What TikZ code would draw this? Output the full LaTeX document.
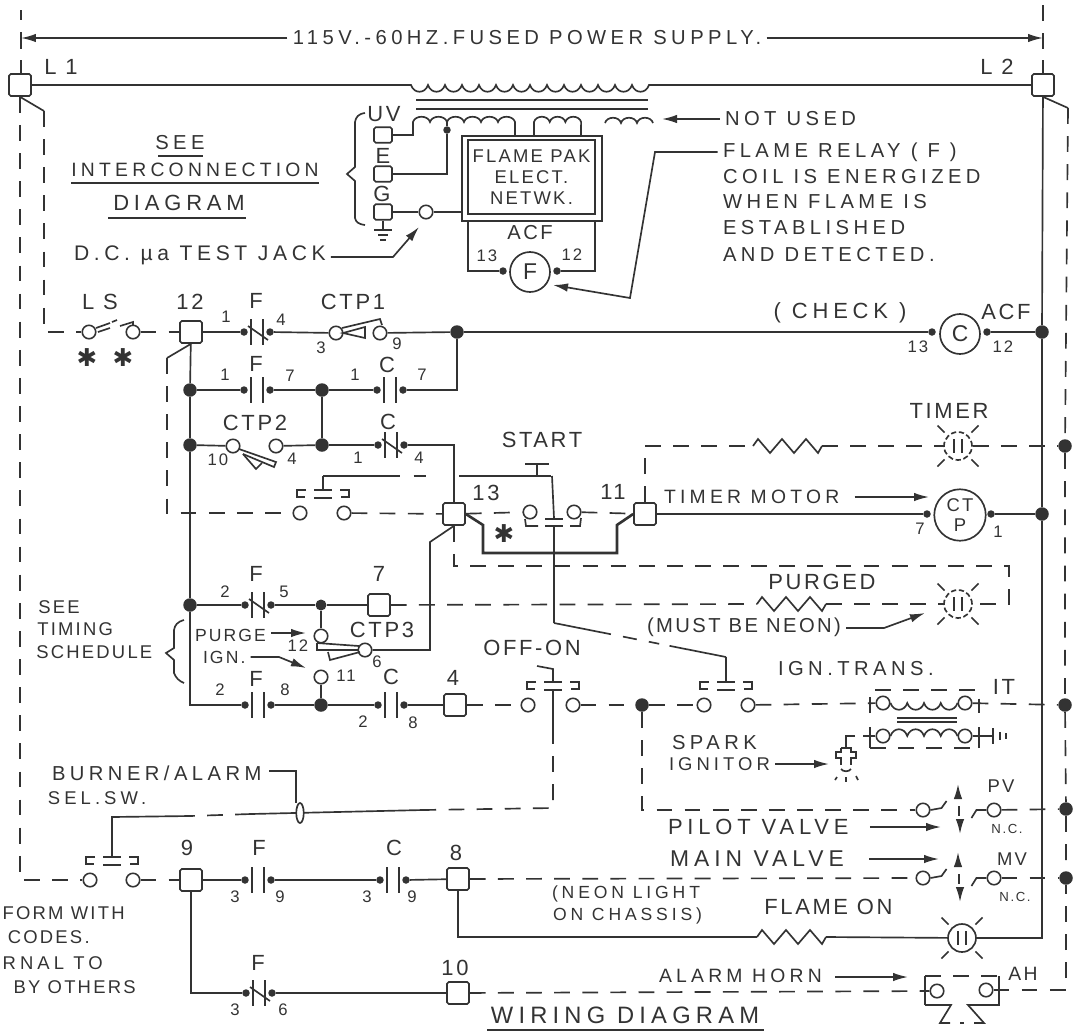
\documentclass[tikz,border=0pt]{standalone}
\usepackage{fontspec}
\setsansfont[LetterSpace=12]{Liberation Sans}
\newfontfamily\widefont[LetterSpace=22]{Liberation Sans}
\newfontfamily\symfont{DejaVu Sans}
\usetikzlibrary{arrows.meta, shapes.geometric}
\definecolor{ink}{gray}{0.2}
\tikzset{
  wire/.style={draw=ink, line width=0.95pt},
  hvy/.style={draw=ink, line width=1.5pt},
  dsh/.style={draw=ink, line width=0.95pt, dash pattern=on 9pt off 7pt},
  tip/.style={-{Latex[length=3mm,width=1.7mm]}},
  dot/.style={circle, fill=ink, inner sep=0pt, minimum size=0.15cm},
  jct/.style={circle, fill=ink, inner sep=0pt, minimum size=0.27cm},
  cnt/.style={circle, draw=ink, fill=white, line width=0.9pt, inner sep=0pt, minimum size=0.27cm},
  term/.style={rectangle, rounded corners=1pt, draw=ink, fill=white, line width=0.95pt, inner sep=0pt, minimum size=0.44cm},
  lamp/.style={circle, draw=ink, line width=0.95pt, inner sep=0pt, minimum size=0.56cm},
  coil/.style={circle, draw=ink, fill=white, line width=0.95pt, inner sep=0pt, text=ink},
  txt/.style={inner sep=0pt, outer sep=3pt, text=ink, font=\widefont\fontsize{11.5}{14}\selectfont},
  ltxt/.style={txt, anchor=west, xshift=-3pt},
  small/.style={inner sep=0pt, text=ink, font=\sffamily\fontsize{9.5}{11}\selectfont},
  big/.style={inner sep=0pt, text=ink, font=\sffamily\fontsize{12.5}{14}\selectfont},
}
% relay contact, open
\newcommand{\relayno}[3]{
  \node[dot] (#1a) at (#2,#3) {};
  \node[dot] (#1b) at ({#2+26},#3) {};
  \draw[wire] (#1a) ++(7,-13) -- ++(0,26);
  \draw[wire] (#1b) ++(-7,-13) -- ++(0,26);
}
% relay contact, closed
\newcommand{\relaync}[3]{
  \relayno{#1}{#2}{#3}
  \draw[wire] (#1a) ++(4,-6) -- ++(20,14);
}
% linked push button
\newcommand{\ganged}[2]{
  \draw[wire] (#1,#2) ++(-9,-23) -- ++(18,0);
  \draw[wire] (#1,#2) ++(-9,-15) -- ++(18,0);
  \draw[wire] (#1,#2) ++(-17,-23) -- ++(-9,0) -- ++(0,7) -- ++(8,0);
  \draw[wire] (#1,#2) ++(17,-23) -- ++(9,0) -- ++(0,7) -- ++(-8,0);
}
\newcommand{\neonlamp}[4]{
  \node[lamp,#4] (#1) at (#2,#3) {};
  \draw[wire] (#1) ++(-4,-7) -- ++(0,14);
  \draw[wire] (#1) ++(4,-7) -- ++(0,14);
  \foreach \a in {45,135,225,315} \draw[wire] (#1) ++(\a:19) -- ++(\a:10);
}
\newcommand{\resistor}[3]{
  \coordinate (#1a) at (#2,#3);
  \draw[wire] (#1a) -- ++(5,-7) -- ++(12,14) -- ++(12,-14) -- ++(12,14) -- ++(12,-14) -- ++(12,14) -- ++(4,-7) coordinate (#1b);
}
\newcommand{\valve}[3]{
  \node[cnt] (#1a) at (#2,#3) {};
  \node[cnt] (#1b) at ({#2+71},#3) {};
  \draw[wire] (#1a.east) -- ++(11,-2) -- ++(5,-7);
  \draw[wire] (#1b.west) -- ++(-10,0) -- ++(-5,8);
  \draw[wire, tip] ({#2+35},{#3-14}) -- ++(0,-12);
  \draw[wire] ({#2+36},{#3-4}) -- ++(0,10);
  \draw[wire, tip] ({#2+37},{#3+12}) -- ++(0,12);
}

\begin{document}
\begin{tikzpicture}[x=0.02cm, y=-0.02cm, font=\sffamily]
    \useasboundingbox (0,0) rectangle (1076,1032);
    % supply
    \node[txt] (supply) at (527,38) {115V.-60HZ.FUSED POWER SUPPLY.};
    \coordinate (supL) at (21,38);
    \coordinate (supR) at (1043,38);
    \draw[wire, tip] (supply) -- (supL);
    \draw[wire, tip] (supply) -- (supR);
    \draw[wire] (supL) ++(0,-28) -- ++(0,10) (supL) ++(0,-6) -- ++(0,17);
    \draw[dsh] (supR) ++(0,-33) -- ++(0,45);
    \draw[wire] (supL) ++(0,22) -- ++(0,14);
    \draw[wire] (supR) ++(0,22) -- ++(0,14);
    % lines in
    \node[term] (l1) at (20,85) {};
    \node[term] (l2) at (1043,85) {};
    \node[big, anchor=west] (lblL1) at (44,67) {L 1};
    \node[big, anchor=west] (lblL2) at (980,67) {L 2};
    % transformer
    \coordinate (priA) at (411,85);
    \draw[wire] (l1) -- (priA) \foreach \i in {1,...,14} { .. controls +(3,9) and +(-3,9) .. ++(17,0) } -- (l2);
    \draw[hvy] (416,100) -- (648,100);
    \draw[hvy] (416,109) -- (648,109);
    \node[term, minimum width=0.36cm, minimum height=0.31cm] (tUV) at (383,135) {};
    \node[term, minimum width=0.36cm, minimum height=0.31cm] (tE) at (383,174) {};
    \node[term, minimum width=0.36cm, minimum height=0.31cm] (tG) at (383,212) {};
    \node[big] (lblUV) at (384,114) {UV};
    \node[big] (lblE) at (383,156) {E};
    \node[big] (lblG) at (382,194) {G};
    \draw[wire] (365,113) .. controls (358,114) and (356,117) .. (355,122) -- (355,167) -- (347,174) -- (355,181) -- (355,218) .. controls (356,222) and (358,224) .. (365,225);
    \node[draw=ink, line width=0.95pt, minimum width=2.8cm, minimum height=1.7cm, inner sep=0pt] (netOut) at (532,178.5) {};
    \node[draw=ink, line width=1.2pt, minimum width=2.54cm, minimum height=1.48cm, inner sep=0pt, align=center, text=ink, font=\sffamily\fontsize{10.5}{12}\selectfont] (net) at (531.5,177) {FLAME PAK\\ELECT.\\NETWK.};
    \coordinate (secA) at (413,135);
    \coordinate (secB) at (515,136);
    \coordinate (sec2A) at (534,136);
    \coordinate (sec2B) at (581,136);
    \node[dot] (tap) at (447,130) {};
    \draw[wire] (tUV) -- (secA) -- ++(0,-13) \foreach \i in {1,...,6} { .. controls +(2,-7) and +(-2,-7) .. ++(17,0) } -- (secB);
    \draw[wire] (sec2A) -- ++(0,-14) \foreach \i in {1,...,3} { .. controls +(2,-7) and +(-2,-7) .. ++(15.7,0) } -- (sec2B);
    \coordinate (sec3A) at (605,123);
    \draw[wire] (sec3A) \foreach \i in {1,...,3} { .. controls +(2,-7) and +(-2,-7) .. ++(16,0) };
    \draw[wire] (tE) -| (tap) -- ++(0,-8);
    \node[cnt] (jack) at (426,212) {};
    \draw[wire] (tG) -- (jack) -- (netOut.west |- jack);
    \coordinate (gnd) at (383,230);
    \draw[wire] (tG) -- (gnd);
    \draw[wire] (gnd) ++(-9,0) -- ++(18,0);
    \draw[wire] (gnd) ++(-5,5) -- ++(10,0);
    \draw[wire] (gnd) ++(-3,10) -- ++(6,0);
    % flame relay coil
    \node[coil, minimum size=0.8cm, font=\sffamily\fontsize{13}{13}\selectfont] (coilF) at (530,272) {F};
    \node[dot] (fa) at (503,271) {};
    \node[dot] (fb) at (557,271) {};
    \coordinate (netBL) at (468,221);
    \coordinate (netBR) at (595,221);
    \draw[wire] (netBL) |- (fa);
    \draw[wire] (fb) -| (netBR);
    \node[small] (lblACF) at (530,233) {\fontsize{11.5}{11}\selectfont ACF};
    % left notes
    \node[txt] (see1) at (180,143) {SEE};
    \node[txt, font=\widefont\fontsize{11}{14}\selectfont] (see2) at (195,170) {INTERCONNECTION};
    \node[txt, font=\widefont\fontsize{12.5}{14}\selectfont] (see3) at (179,203) {DIAGRAM};
    \draw[wire] (158,156) -- (203,156);
    \draw[wire] (71,183) -- (319,183);
    \draw[wire] (108,218) -- (246,218);
    \node[ltxt, font=\widefont\fontsize{12}{14}\selectfont] (testjack) at (74,255) {D.C. µa TEST JACK};
    \coordinate (tjA) at (393,257);
    \coordinate (tjTip) at (419,227);
    \draw[wire, tip] (testjack.east |- tjA) -- (tjA) -- (tjTip);
    % right notes
    \node[ltxt] (notused) at (725,119) {NOT USED};
    \coordinate (nuTip) at (662,119);
    \draw[wire, tip] (notused.west) -- (nuTip);
    \coordinate (sec3B) at (653,123);
    \node[ltxt] (fr1) at (723,152) {FLAME RELAY ( F )};
    \node[ltxt] (fr2) at (723,177) {COIL IS ENERGIZED};
    \node[ltxt] (fr3) at (723,202) {WHEN FLAME IS};
    \node[ltxt] (fr4) at (723,228) {ESTABLISHED};
    \node[ltxt] (fr5) at (723,255) {AND DETECTED.};
    \coordinate (frA) at (655,152);
    \coordinate (frB) at (630,298);
    \coordinate (frTip) at (553,285);
    \draw[wire, tip] (fr1.west) -- (frA) -- (frB) -- (frTip);
    % top rung
    \node[term] (t12) at (191,332) {};
    \node[cnt] (lsa) at (89,332) {};
    \node[cnt] (lsb) at (133,332) {};
    \coordinate (k1) at (44,111);
    \draw[wire] (l1.south) -- (k1);
    \draw[dsh] (k1) |- (lsa);
    \draw[dsh] (lsb) -- (t12);
    \draw[wire] (lsa) ++(7,-4) -- ++(14,-5);
    \draw[wire] (lsa) ++(9,0) -- ++(12,-4);
    \draw[wire] (112,322) -- (117,320);
    \draw[wire] (120,326) -- (133,322) -- (133,325);
    \relaync{ra}{244}{332}
    \node[cnt] (ctp1a) at (336,333) {};
    \node[cnt] (ctp1b) at (380,333) {};
    \draw[wire] (342,328) -- (380,319) -- (382,325);
    \draw[wire] (343,333) -- (365,327) -- (365,338) -- cycle;
    \node[jct] (j1) at (457,332) {};
    \node[jct] (j2) at (1042,332) {};
    \node[coil, minimum size=0.8cm, font=\sffamily\fontsize{13}{13}\selectfont] (coilC) at (960,334) {C};
    \node[dot] (ca) at (932,332) {};
    \node[dot] (cb) at (987,332) {};
    \draw[wire] (t12) -- (raa);
    \draw[wire] (rab) -- (ctp1a);
    \draw[wire] (ctp1b) -- (j1) -- (ca);
    \draw[wire] (cb) -- (j2);
    \node[txt, font=\widefont\fontsize{12.5}{14}\selectfont] (check) at (840,313) {( CHECK )};
    % second and third rungs
    \node[jct] (jA) at (190,390) {};
    \node[jct] (jB) at (190,445) {};
    \node[jct] (jC) at (190,605) {};
    \node[jct] (j4) at (322,390) {};
    \node[jct] (j5) at (322,445) {};
    \relayno{rb}{244}{390}
    \relayno{rc}{377}{390}
    \relaync{rd}{378}{445}
    \node[term] (t13) at (454,514) {};
    \node[cnt] (ctp2a) at (233,446) {};
    \node[cnt] (ctp2b) at (276,446) {};
    \draw[wire] (239,449) -- (276,462) -- (274,467) -- (243,454);
    \draw[wire] (243,454) -- (256,469) -- (262,463);
    \draw[wire] (t12) -- (jA) -- (jB) -- (jC);
    \draw[wire] (jA) -- (rba);
    \draw[wire] (rbb) -- (j4) -- (rca);
    \draw[wire] (rcb) -| (j1);
    \draw[wire] (jB) -- (ctp2a);
    \draw[wire] (ctp2b) -- (j5) -- (rda);
    \draw[wire] (j4) -- (j5);
    \draw[wire] (rdb) -| (t13);
    % start rung
    \coordinate (k12) at (167,358);
    \draw[wire] (t12.south) -- (k12);
    \node[cnt] (ha) at (300,513) {};
    \node[cnt] (hb) at (344,513) {};
    \draw[dsh] (k12) |- (ha);
    \draw[dsh] (hb) -- (t13);
    \ganged{323}{513}
    \coordinate (ba) at (323,476);
    \coordinate (bb) at (552,476);
    \coordinate (bt) at (537,476);
    \draw[wire] (ba) -- ++(0,14);
    \draw[wire, dash pattern=on 43.6pt off 8pt on 7pt off 19pt on 52pt] (ba) -- (bb);
    \draw[wire] (bt) -- ++(0,-12) ++(-12,0) -- ++(24,0);
    \coordinate (bc) at (554,518);
    \draw[wire] (bb) -- (bc);
    \draw[wire] (545,519) -- (563,519);
    \draw[wire] (545,526) -- (563,526);
    \node[cnt] (sa) at (530,512) {};
    \node[cnt] (sb) at (574,512) {};
    \draw[wire] (525,519) -- (526,526) -- (538,526);
    \draw[wire] (581,518) -- (580,526) -- (570,526);
    \node[term] (t11) at (645,514) {};
    \draw[dsh] (t13) -- (sa);
    \draw[dsh] (sb) -- (t11);
    \coordinate (h1) at (483,525);
    \coordinate (h2) at (483,553);
    \coordinate (h3) at (617,553);
    \coordinate (h4) at (617,525);
    \draw[hvy] (t13.east) -- (h1) -- (h2) -- (h3) -- (h4) -- (t11.west);
    % link to ign. trans.
    \coordinate (ld) at (554,526);
    \coordinate (le) at (554,623);
    \coordinate (lf) at (726,657);
    \coordinate (lg) at (726,682);
    \draw[wire] (ld) -- (le);
    \draw[wire, dash pattern=on 33pt off 7pt on 8pt off 7pt on 6pt off 6pt on 33pt] (le) -- (lf);
    \draw[wire] (lf) -- (lg);
    % timer motor
    \node[coil, minimum size=1.03cm, align=center, font=\sffamily\fontsize{10.5}{11.5}\selectfont] (motor) at (960,515) {CT\\P};
    \node[dot] (ma) at (927,514) {};
    \node[dot] (mb) at (991,514) {};
    \node[jct] (j3) at (1042,514) {};
    \draw[hvy] (t11) -- (ma);
    \draw[wire] (mb) -- (j3);
    \node[ltxt, font=\widefont\fontsize{11}{14}\selectfont] (tmotor) at (664,497) {TIMER MOTOR};
    \coordinate (tmTip) at (929,497);
    \draw[wire, tip] (tmotor.east) ++(10,0) -- (tmTip);
    % timer lamp
    \node[big] (lblTimer) at (949,411) {TIMER};
    \neonlamp{lampT}{958}{446}{dash pattern=on 3pt off 1.5pt}
    \resistor{resT}{753}{446}
    \node[jct] (j7) at (1065,446) {};
    \draw[dsh] (t11) |- (resTa);
    \draw[dsh] (resTb) -- (lampT) -- (j7);
    % main lines on the right
    \coordinate (k2) at (1068,108);
    \draw[wire] (l2) -- (j2) -- (j3);
    \draw[wire] (l2.south) -- (k2);
    \node[jct] (j8) at (1065,705) {};
    \node[jct] (j9) at (1066,809) {};
    \node[jct] (j10) at (1066,878) {};
    \draw[dsh] (k2) -- (j7) -- (j8) -- (j9) -- (j10);
    % purged rung
    \relaync{re}{245}{605}
    \node[jct, minimum size=0.22cm] (j6) at (321,605) {};
    \node[term] (t7) at (379,605) {};
    \draw[wire] (jC) -- (rea);
    \draw[wire] (reb) -- (j6) -- (t7);
    \node[big] (lblPurged) at (822,582) {PURGED};
    \resistor{resP}{757}{604}
    \neonlamp{lampP}{958}{604}{dash pattern=on 3pt off 1.5pt}
    \coordinate (pc) at (1009,566);
    \draw[dsh] (t7) -- (resPa);
    \draw[dsh] (resPb) -- (lampP);
    \draw[dsh] (t13) |- (pc) |- (lampP);
    \node[ltxt, font=\sffamily\fontsize{11.5}{14}\selectfont] (mustneon) at (647,627) {(MUST BE NEON)};
    \coordinate (mnA) at (884,628);
    \coordinate (mnTip) at (925,613);
    \draw[wire, tip] (mustneon.east |- mnA) -- (mnA) -- (mnTip);
    % timing cam
    \node[cnt] (ctp3a) at (321,636) {};
    \node[cnt] (ctp3b) at (321,677) {};
    \node[cnt] (ctp3c) at (365,650) {};
    \node[jct] (j11) at (321,705) {};
    \coordinate (k13) at (430,542);
    \draw[wire] (j6) -- (ctp3a);
    \draw[wire] (ctp3c) -| (k13) -- (t13.south);
    \draw[wire] (ctp3b) -- (j11);
    \draw[wire] (317,643) -- (359,646);
    \draw[wire] (317,643) -- (317,650) -- (358,650);
    \draw[wire] (328,652) -- (330,660) -- (360,652);
    \node[ltxt, font=\sffamily\fontsize{10}{11}\selectfont] (lblPurge) at (195,635) {PURGE};
    \node[ltxt, font=\sffamily\fontsize{10}{11}\selectfont] (lblIgn) at (203,657) {IGN.};
    \coordinate (puTip) at (306,633);
    \coordinate (igA) at (279,657);
    \coordinate (igTip) at (306,668);
    \draw[wire, tip] (lblPurge.east |- puTip) -- (puTip);
    \draw[wire, tip] (lblIgn.east) -- (igA) -- (igTip);
    \node[small, anchor=west] (see4) at (38,607) {\fontsize{10.5}{11}\selectfont SEE};
    \node[small, anchor=west] (see5) at (37,629) {\fontsize{10.5}{11}\selectfont TIMING};
    \node[small, anchor=west] (see6) at (36,652) {\fontsize{10.5}{11}\selectfont SCHEDULE};
    \draw[wire] (184,620) .. controls (177,622) and (175,625) .. (174,630) -- (174,648) -- (166,653) -- (174,660) -- (174,673) .. controls (176,678) and (179,681) .. (184,683);
    % ignition rung
    \relayno{rf}{245}{705}
    \relayno{rg}{378}{705}
    \node[term] (t4) at (455,705) {};
    \node[cnt] (offa) at (528,705) {};
    \node[cnt] (offb) at (573,705) {};
    \node[jct] (j12) at (642,705) {};
    \node[cnt] (igna) at (704,705) {};
    \node[cnt] (ignb) at (748,705) {};
    \node[cnt] (itpa) at (883,703) {};
    \node[cnt] (itpb) at (965,703) {};
    \draw[wire] (jC) |- (rfa);
    \draw[wire] (rfb) -- (j11) -- (rga);
    \draw[wire] (rgb) -- (t4);
    \draw[dsh] (t4) -- (offa);
    \draw[dsh] (offb) -- (j12) -- (igna);
    \draw[dsh] (ignb) -- (itpa);
    \draw[dsh] (itpb) -- (j8);
    \ganged{553}{705}
    \ganged{726}{705}
    % off-on link
    \coordinate (ooA) at (537,666);
    \coordinate (ooB) at (553,669);
    \coordinate (ooC) at (553,682);
    \draw[wire] (ooA) -- (ooB) -- (ooC);
    \coordinate (slA) at (553,690);
    \coordinate (slB) at (553,728);
    \coordinate (slC) at (553,808);
    \coordinate (slD) at (423,810);
    \coordinate (slE) at (251,814);
    \coordinate (slF) at (190,816);
    \coordinate (slG) at (112,817);
    \coordinate (slH) at (112,857);
    \draw[wire] (slA) -- (slB);
    \draw[dsh] (slB) -- (slC) -- (slD);
    \draw[wire] (slD) -- (slE);
    \draw[dsh] (slE) -- (slF);
    \draw[wire] (slF) -- (slG) -- (slH);
    % spark transformer
    \coordinate (itA) at (870,690);
    \coordinate (itB) at (979,690);
    \coordinate (itC) at (979,713);
    \coordinate (itD) at (870,713);
    \draw[dsh] (itD) -- (itA) -- (itB) -- (itC);
    \draw[wire] (itpa.east) \foreach \i in {1,...,4} { .. controls +(3,9) and +(-3,9) .. ++(16.75,0) };
    \draw[hvy] (897,718) -- (957,718);
    \draw[wire] (897,722) -- (957,722);
    \node[cnt] (itsa) at (883,736) {};
    \node[cnt] (itsb) at (965,736) {};
    \draw[wire] (itsa.east) \foreach \i in {1,...,4} { .. controls +(3,-9) and +(-3,-9) .. ++(16.75,0) };
    \coordinate (itE) at (870,727);
    \coordinate (itF) at (870,748);
    \coordinate (itG) at (979,748);
    \coordinate (itH) at (979,727);
    \draw[wire] (itE) -- (itF);
    \draw[dsh] (itF) -- (itG);
    \draw[wire] (itG) -- (itH);
    \coordinate (gndS) at (993,736);
    \draw[wire] (itsb) -- (gndS);
    \draw[wire] (gndS) ++(0,-8) -- ++(0,16);
    \draw[wire] (gndS) ++(7,-4) -- ++(0,8);
    \draw[wire] (gndS) ++(13,-3) -- ++(0,6);
    \coordinate (spA) at (863,736);
    \draw[wire] (itsa) -- (spA);
    \coordinate (spB) at (846,736);
    \draw[wire] (855,736) -- (spB) -- ++(0,11);
    \draw[wire] (841,748) -- (851,748) -- (851,752) -- (856,752) -- (856,758) -- (851,758) -- (851,765);
    \draw[wire] (841,765) -- (841,758) -- (836,758) -- (836,752) -- (841,752) -- (841,748);
    \draw[wire] (841,769) .. controls (843,772) and (849,772) .. (851,769);
    \draw[wire] (837,777) -- (835,780);
    \draw[wire] (846,777) -- (846,782);
    \draw[wire] (856,776) -- (858,780);
    \node[big] (lblIT) at (1004,687) {IT};
    \node[ltxt] (lblTrans) at (778,669) {IGN.TRANS.};
    \node[ltxt] (lblSpark) at (672,743) {SPARK};
    \node[ltxt, font=\widefont\fontsize{10.5}{11}\selectfont] (lblIgnitor) at (669,764) {IGNITOR};
    \coordinate (spTip) at (829,764);
    \draw[wire, tip] (lblIgnitor.east) -- (spTip);
    % valves
    \valve{pv}{923}{810}
    \valve{mv}{923}{878}
    \draw[dsh] (j12) |- (pva);
    \draw[dsh] (pvb) -- (j9);
    \node[small] (lblPV) at (1001,786) {\fontsize{10.5}{11}\selectfont PV};
    \node[small] (lblNCa) at (1007,829) {\fontsize{7.5}{8}\selectfont N.C.};
    \node[small] (lblMV) at (1012,859) {\fontsize{10.5}{11}\selectfont MV};
    \node[small] (lblNCb) at (1015,897) {\fontsize{7.5}{8}\selectfont N.C.};
    \node[ltxt, font=\widefont\fontsize{12.5}{14}\selectfont] (lblPilot) at (668,827) {PILOT VALVE};
    \node[ltxt, font=\widefont\fontsize{13}{14}\selectfont] (lblMain) at (670,859) {MAIN VALVE};
    \coordinate (pvTip) at (941,827);
    \coordinate (mvTip) at (939,859);
    \draw[wire, tip] (lblPilot.east) ++(16,0) -- (pvTip);
    \draw[wire, tip] (lblMain.east) ++(20,0) -- (mvTip);
    % selector rung
    \node[cnt] (sela) at (90,880) {};
    \node[cnt] (selb) at (133,880) {};
    \node[term] (t9) at (191,880) {};
    \node[term] (t8) at (458,879) {};
    \relayno{rh}{245}{880}
    \relayno{ri}{380}{880}
    \draw[dsh] (l1) |- (sela);
    \draw[dsh] (selb) -- (t9);
    \draw[wire] (t9) -- (rha);
    \draw[wire] (rhb) -- (ria);
    \draw[wire] (rib) -- (t8);
    \draw[dsh] (t8) -- (mva);
    \draw[dsh] (mvb) -- (j10);
    \ganged{112}{880}
    \node[draw=ink, fill=white, line width=0.95pt, ellipse, minimum width=0.15cm, minimum height=0.4cm, inner sep=0pt] (grip) at (300,813) {};
    \node[ltxt] (lblBurner) at (52,773) {BURNER/ALARM};
    \node[ltxt, font=\widefont\fontsize{10.5}{11}\selectfont] (lblSel) at (48,798) {SEL.SW.};
    \coordinate (grA) at (269,771);
    \coordinate (grB) at (296,771);
    \coordinate (grC) at (296,803);
    \draw[wire] (grA) -- (grB) -- (grC);
    % flame on
    \resistor{resF}{757}{937}
    \neonlamp{lampF}{962}{938}{}
    \draw[wire] (t8) |- (resFa);
    \draw[wire] (resFb) -- (lampF);
    \draw[wire] (j3) |- (lampF);
    \node[ltxt, font=\widefont\fontsize{10}{11}\selectfont] (lblNeon1) at (552,894) {(NEON LIGHT};
    \node[ltxt, font=\widefont\fontsize{10}{11}\selectfont] (lblNeon2) at (553,916) {ON CHASSIS)};
    \node[big, anchor=west] (lblFlameOn) at (764,907) {FLAME ON};
    % alarm rung
    \relaync{rk}{246}{993}
    \node[term] (t10) at (458,993) {};
    \node[cnt] (aha) at (937,991) {};
    \node[cnt] (ahb) at (986,990) {};
    \draw[wire] (t9) |- (rka);
    \draw[wire] (rkb) -- (t10);
    \draw[dsh] (t10) -- (aha);
    \draw[dsh] (ahb) -| (j10);
    \coordinate (haA) at (925,976);
    \coordinate (haB) at (999,976);
    \coordinate (haC) at (999,1005);
    \coordinate (haD) at (925,1005);
    \draw[wire] (haD) -- (haA);
    \draw[dsh] (haA) -- (haB);
    \draw[wire] (haB) -- (haC) -- (968,1005) -- (984,1023) -- (974,1023);
    \draw[wire] (haD) -- (951,1005) -- (940,1023) -- (950,1023);
    \draw[wire] (960,1023) -- (964,1023);
    \node[small] (lblAH) at (1023,974) {\fontsize{11}{11}\selectfont AH};
    \node[ltxt, font=\widefont\fontsize{11}{11}\selectfont] (lblHorn) at (659,976) {ALARM HORN};
    \coordinate (hoTip) at (908,977);
    \draw[wire, tip] (lblHorn.east) ++(8,1) -- (hoTip);
    % title and cut off note
    \node[txt, font=\widefont\fontsize{13.5}{14}\selectfont] (title) at (625,1015) {WIRING DIAGRAM};
    \draw[wire] (487,1030) -- (764,1030);
    \node[inner sep=0pt, text=ink, anchor=east, font=\sffamily\fontsize{10.5}{11}\selectfont] (cut1) at (125,913) {FORM WITH};
    \node[inner sep=0pt, text=ink, anchor=east, font=\sffamily\fontsize{10.5}{11}\selectfont] (cut2) at (90,937) {CODES.};
    \node[inner sep=0pt, text=ink, anchor=east, font=\widefont\fontsize{10.5}{11}\selectfont] (cut3) at (103,963) {RNAL TO};
    \node[inner sep=0pt, text=ink, anchor=east, font=\sffamily\fontsize{10.5}{11}\selectfont] (cut4) at (136,987) {BY OTHERS};
    % stars
    \foreach \x/\y [count=\i] in {87/358, 123/358, 504/534}
      \node[inner sep=0pt, text=ink, font=\symfont\fontsize{14}{14}\selectfont] (star\i) at (\x,\y) {✱};
    % relay letters
    \foreach \x/\y/\t [count=\i] in {256/301/F, 256/364/F, 387/365/C, 388/422/C, 256/574/F, 256/679/F, 391/677/C, 259/848/F, 394/848/C, 258/963/F}
      \node[big] (rel\i) at (\x,\y) {\t};
    % big labels
    \foreach \x/\y/\t [count=\i] in {100/302/{L S}, 190/302/12, 353/302/CTP1, 255/423/CTP2, 382/630/CTP3, 486/493/13, 613/492/11, 379/574/7, 453/678/4, 187/848/9, 456/853/8, 455/968/10, 542/440/START, 532/648/OFF-ON, 1006/312/ACF}
      \node[big] (top\i) at (\x,\y) {\t};
    % pin numbers
    \foreach \x/\y/\t [count=\i] in {487/256/13, 572/255/12, 226/317/1, 281/320/4, 321/348/3, 397/344/9, 918/347/13, 1003/347/12, 225/375/1, 290/376/7, 355/375/1, 422/375/7, 218/460/10, 292/459/4, 358/458/1, 419/458/4, 920/529/7, 998/532/1, 225/592/2, 284/592/5, 298/646/12, 377/662/6, 346/676/11, 220/690/2, 285/690/8, 363/722/2, 413/723/8, 235/897/3, 280/897/9, 367/897/3, 412/897/9, 235/1010/3, 283/1010/6}
      \node[small] (pin\i) at (\x,\y) {\t};
\end{tikzpicture}
\end{document}
